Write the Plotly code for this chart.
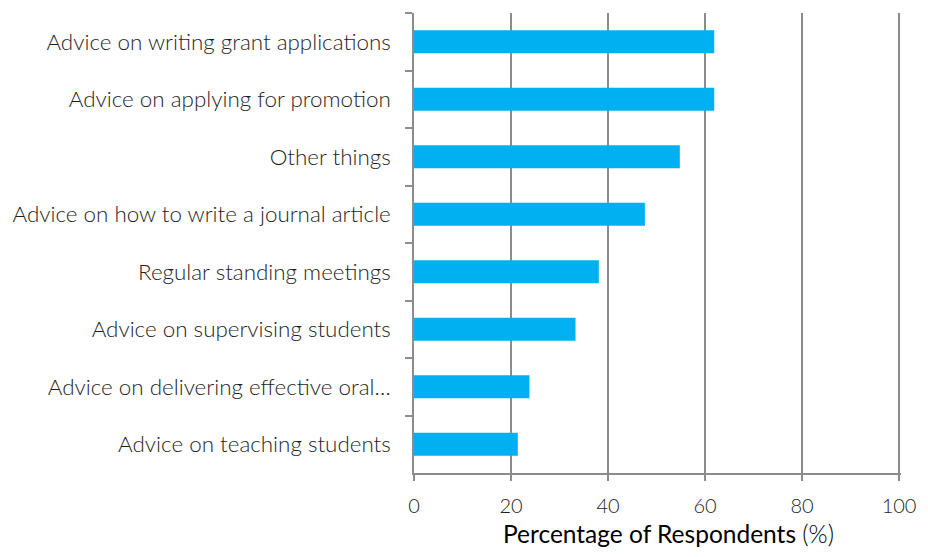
import plotly.graph_objects as go

# Survey items, listed top to bottom
categories = [
    "Advice on writing grant applications",
    "Advice on applying for promotion",
    "Other things",
    "Advice on how to write a journal article",
    "Regular standing meetings",
    "Advice on supervising students",
    "Advice on delivering effective oral…",
    "Advice on teaching students",
]
# Share of respondents (%)
percentages = [61.9, 61.9, 54.8, 47.6, 38.1, 33.3, 23.8, 21.4]

x_ticks = [0, 20, 40, 60, 80, 100]

AXIS_GREY = "#8c8c8c"
BAR_BLUE = "#00b0f0"
FONT = "Lato"
TEXT = "#1e1e1e"

fig = go.Figure(
    go.Bar(
        x=percentages,
        y=categories,
        orientation="h",
        marker=dict(color=BAR_BLUE, line=dict(width=0)),
        width=0.4,
    )
)

fig.update_layout(
    width=928,
    height=557,
    margin=dict(l=413, r=22, t=13, b=84),
    paper_bgcolor="white",
    plot_bgcolor="white",
    showlegend=False,
    font=dict(family=FONT, size=21, color=TEXT),
)

fig.update_xaxes(
    range=[0, 100.4],
    tickvals=x_ticks,
    ticktext=[str(v) for v in x_ticks],
    showgrid=True,
    gridcolor=AXIS_GREY,
    gridwidth=1.5,
    showline=True,
    linecolor=AXIS_GREY,
    linewidth=1.5,
    ticks="outside",
    ticklen=6,
    tickwidth=1.5,
    tickcolor=AXIS_GREY,
    ticklabelstandoff=8,
    tickfont=dict(family=FONT, size=20, color=TEXT, weight=300),
    zeroline=False,
    fixedrange=True,
)

fig.update_yaxes(
    categoryorder="array",
    categoryarray=categories,
    autorange="reversed",
    showgrid=False,
    showline=True,
    linecolor=AXIS_GREY,
    linewidth=1.5,
    ticks="outside",
    tickson="boundaries",
    ticklen=7,
    tickwidth=1.5,
    tickcolor=AXIS_GREY,
    ticklabelstandoff=17,
    tickfont=dict(family=FONT, size=22.4, color=TEXT, weight=300),
    fixedrange=True,
)

# Axis title, placed as an annotation below the x axis
fig.add_annotation(
    text="Percentage of Respondents <span style='font-weight:300'>(%)</span>",
    xref="paper",
    yref="paper",
    x=0.522,
    y=0,
    xanchor="center",
    yanchor="top",
    yshift=-44,
    showarrow=False,
    font=dict(family=FONT, size=24.5, color="#000000"),
)

fig.write_html("out.html")
